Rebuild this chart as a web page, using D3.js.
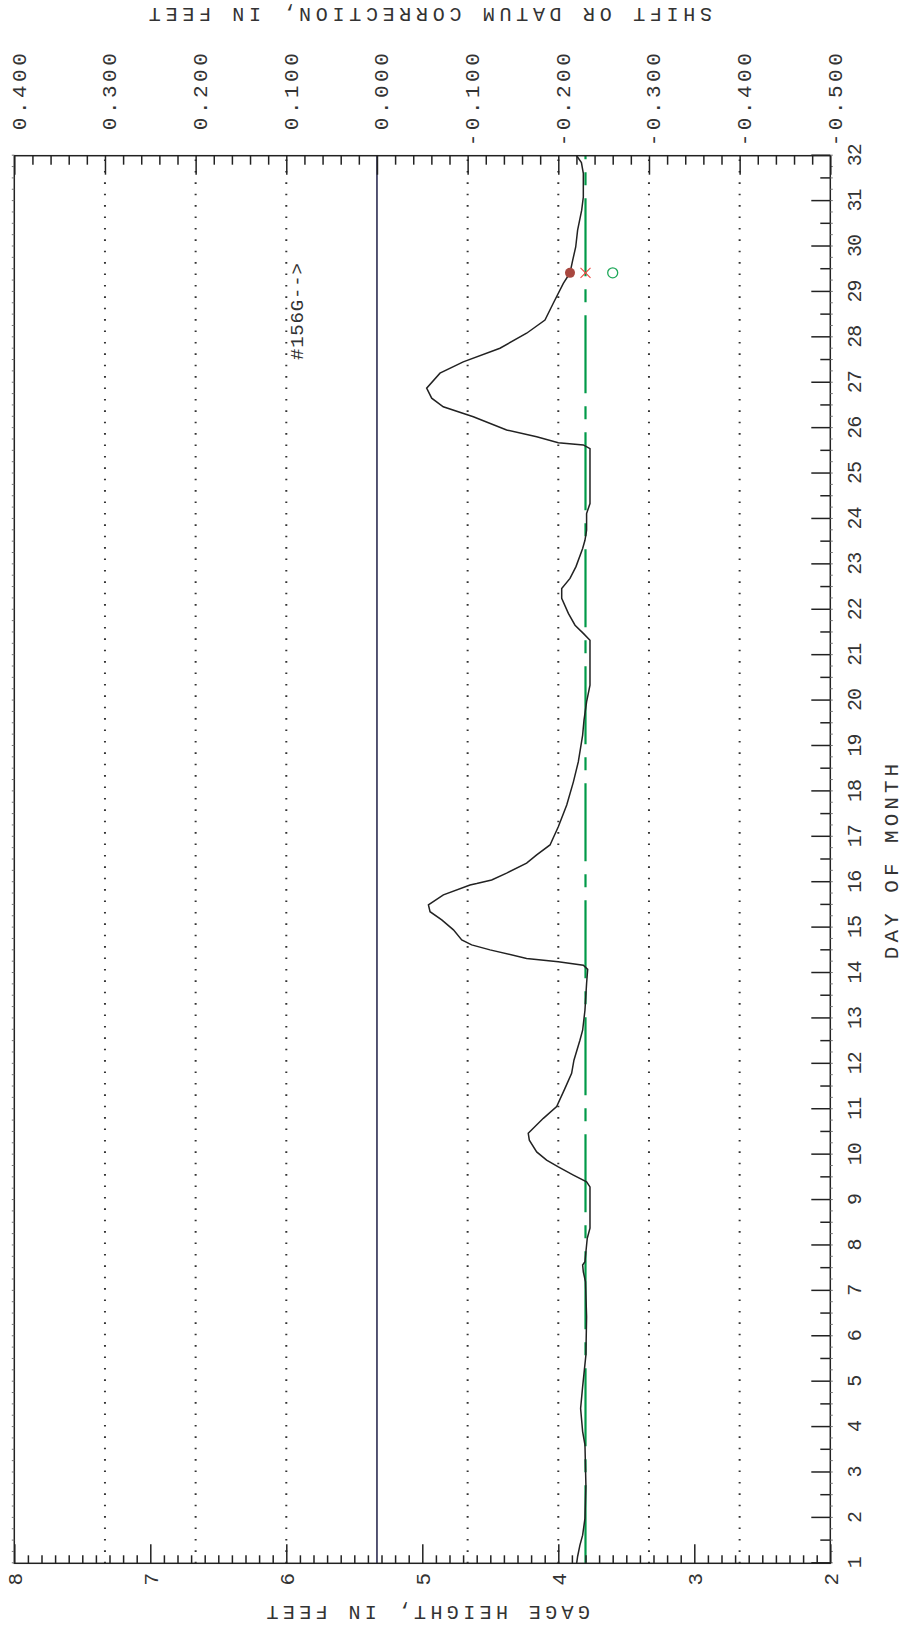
<!DOCTYPE html>
<html>
<head>
<meta charset="utf-8">
<title>Gage height hydrograph</title>
<script src="https://cdn.jsdelivr.net/npm/d3@7"></script>
<style>
  body { margin: 0; background: #fff; }
  svg text { font-family: "Liberation Mono", "DejaVu Sans Mono", monospace; fill: #333; }
</style>
</head>
<body>
<div id="chart"></div>
<script>
// unit-value record (day of month, gage height in feet)
var days = [1.00, 1.15, 1.40, 1.62, 1.99, 2.72, 3.61, 3.90, 4.41, 4.89, 5.59, 6.43, 7.20, 7.42, 7.57, 7.64,
            8.01, 8.16, 8.38, 9.29, 9.40, 9.55, 9.73, 9.88, 10.06, 10.32, 10.47, 10.58, 10.80, 11.06, 11.46,
            11.79, 12.08, 12.52, 12.74, 13.18, 13.77, 14.08, 14.17, 14.25, 14.32, 14.51, 14.62, 14.73, 14.95,
            15.17, 15.35, 15.50, 15.72, 15.94, 15.97, 16.05, 16.20, 16.42, 16.60, 16.82, 17.22, 17.70, 18.21,
            18.65, 19.24, 19.57, 19.97, 20.34, 21.33, 21.48, 21.66, 21.92, 22.25, 22.47, 22.69, 22.95, 23.35,
            23.53, 23.75, 24.12, 24.34, 25.55, 25.63, 25.68, 25.81, 25.96, 26.25, 26.47, 26.66, 26.88, 27.21,
            27.46, 27.76, 28.09, 28.38, 28.75, 29.19, 29.42, 29.70, 29.99, 30.36, 30.80, 31.09, 31.61, 31.85, 32.00];
var gage = [3.865, 3.858, 3.841, 3.821, 3.804, 3.797, 3.804, 3.821, 3.836, 3.821, 3.797, 3.792, 3.800, 3.816, 3.821, 3.804,
            3.792, 3.787, 3.767, 3.767, 3.792, 3.889, 4.000, 4.086, 4.159, 4.213, 4.221, 4.184, 4.110, 4.012, 3.951,
            3.902, 3.885, 3.841, 3.821, 3.804, 3.792, 3.784, 3.816, 4.000, 4.233, 4.502, 4.637, 4.710, 4.771,
            4.857, 4.943, 4.955, 4.845, 4.649, 4.600, 4.490, 4.380, 4.233, 4.159, 4.061, 4.000, 3.938, 3.889,
            3.853, 3.821, 3.811, 3.792, 3.767, 3.767, 3.816, 3.877, 3.926, 3.975, 3.975, 3.914, 3.870, 3.821,
            3.804, 3.792, 3.792, 3.767, 3.767, 3.816, 4.000, 4.159, 4.380, 4.625, 4.846, 4.931, 4.968, 4.870,
            4.699, 4.429, 4.233, 4.098, 4.037, 3.963, 3.914, 3.894, 3.872, 3.858, 3.828, 3.816, 3.816, 3.830, 3.865];

var dayTicks = d3.range(1, 33);
var gageTicks = [8, 7, 6, 5, 4, 3, 2];
var shiftTicks = [0.4, 0.3, 0.2, 0.1, 0.0, -0.1, -0.2, -0.3, -0.4, -0.5];
var shiftLabels = ["0.400", "0.300", "0.200", "0.100", "0.000", "-0.100", "-0.200", "-0.300", "-0.400", "-0.500"];
var shiftGrid = [0.3, 0.2, 0.1, -0.1, -0.2, -0.3, -0.4];

var appliedShift = [-0.23];        // green dashed line
var measDay = [29.42];             // measurement #156G
var measGage = [3.914];
var measShiftUsed = [-0.23];       // red x
var measShiftObs = [-0.26];        // green circle

var W = 905, H = 1625;

var svg = d3.select("#chart").append("svg")
    .attr("width", W)
    .attr("height", H);

// the plot is drawn landscape and turned a quarter turn
var g = svg.append("g")
    .attr("transform", "translate(0," + H + ") rotate(-90)");

var xDay = d3.scaleLinear().domain([1, 32]).range([61.7, 1469.3]);
var yGage = d3.scaleLinear().domain([8, 2]).range([14.3, 830.3]);
var yShift = d3.scaleLinear().domain([0.4, -0.5]).range([14.3, 830.3]);

// dotted grid on shift values
g.selectAll(".grid")
    .data(shiftGrid)
  .enter().append("line")
    .attr("class", "grid")
    .attr("x1", xDay(1)).attr("x2", xDay(32))
    .attr("y1", function(d) { return yShift(d); })
    .attr("y2", function(d) { return yShift(d); })
    .attr("stroke", "#333")
    .attr("stroke-width", 2)
    .attr("stroke-dasharray", "1.6,9.8");

// zero shift line
g.append("line")
    .attr("x1", xDay(1)).attr("x2", xDay(32))
    .attr("y1", yShift(0)).attr("y2", yShift(0))
    .attr("stroke", "#1e1e46")
    .attr("stroke-width", 1.5);

// applied shift
g.selectAll(".shiftline")
    .data(appliedShift)
  .enter().append("line")
    .attr("class", "shiftline")
    .attr("x1", xDay(1)).attr("x2", xDay(32))
    .attr("y1", function(d) { return yShift(d); })
    .attr("y2", function(d) { return yShift(d); })
    .attr("stroke", "#009a48")
    .attr("stroke-width", 2.2)
    .attr("stroke-dasharray", "78,13,13,13");

// hydrograph
var pts = days.map(function(d, i) { return [d, gage[i]]; });
var line = d3.line()
    .x(function(d) { return xDay(d[0]); })
    .y(function(d) { return yGage(d[1]); });

g.append("path")
    .datum(pts)
    .attr("d", line)
    .attr("fill", "none")
    .attr("stroke", "#222")
    .attr("stroke-width", 1.5);

// frame
g.append("rect")
    .attr("x", xDay(1)).attr("y", yGage(8))
    .attr("width", xDay(32) - xDay(1))
    .attr("height", yGage(2) - yGage(8))
    .attr("fill", "none")
    .attr("stroke", "#222")
    .attr("stroke-width", 1.5);

function styleAxis(sel, size) {
    sel.attr("font-size", size).attr("color", "#222");
    sel.select(".domain").remove();
    sel.selectAll(".tick line").attr("stroke-width", 1.5);
}

// day of month axis
var dayAxis = g.append("g")
    .attr("transform", "translate(0," + yGage(2) + ")")
    .call(d3.axisBottom(xDay).tickValues(dayTicks).tickSize(-19).tickPadding(16.4)
        .tickFormat(d3.format("d")));
styleAxis(dayAxis, 20);
dayAxis.selectAll("text").attr("letter-spacing", -1);

g.append("g")
    .attr("transform", "translate(0," + yGage(2) + ")")
    .call(d3.axisBottom(xDay).tickValues(d3.range(1.5, 32, 1)).tickSize(-10).tickFormat(""))
    .call(function(s) { styleAxis(s, 10); });

// small hour marks on both day edges
g.append("g")
    .attr("transform", "translate(0," + yGage(2) + ")")
    .call(d3.axisBottom(xDay).tickValues(d3.range(1, 32.01, 0.25)).tickSize(2.5).tickFormat(""))
    .call(function(s) { styleAxis(s, 10); s.selectAll(".tick line").attr("stroke-width", 1).attr("stroke", "#777"); });
g.append("g")
    .attr("transform", "translate(0," + yGage(8) + ")")
    .call(d3.axisTop(xDay).tickValues(d3.range(1, 32.01, 0.25)).tickSize(2.5).tickFormat(""))
    .call(function(s) { styleAxis(s, 10); s.selectAll(".tick line").attr("stroke-width", 1).attr("stroke", "#777"); });

// gage height axis
var gageAxis = g.append("g")
    .attr("transform", "translate(" + xDay(1) + ",0)")
    .call(d3.axisLeft(yGage).tickValues(gageTicks).tickSize(-19).tickPadding(9.7)
        .tickFormat(d3.format("d")));
styleAxis(gageAxis, 21);

g.append("g")
    .attr("transform", "translate(" + xDay(1) + ",0)")
    .call(d3.axisLeft(yGage).tickValues(d3.range(20, 81).map(function(v) { return v / 10; })
        .filter(function(v) { return v % 1 !== 0; })).tickSize(-8).tickFormat(""))
    .call(function(s) { styleAxis(s, 10); });

// shift axis
var shiftAxis = g.append("g")
    .attr("transform", "translate(" + xDay(32) + ",0)")
    .call(d3.axisRight(yShift).tickValues(shiftTicks).tickSize(-19)
        .tickFormat(function(d, i) { return shiftLabels[i]; }));
styleAxis(shiftAxis, 21);
shiftAxis.selectAll("text")
    .attr("text-anchor", "end")
    .attr("x", 106)
    .attr("y", 4)
    .attr("letter-spacing", 3.5);

g.append("g")
    .attr("transform", "translate(" + xDay(32) + ",0)")
    .call(d3.axisRight(yShift).tickValues(d3.range(-25, 21).map(function(v) { return v / 50; })
        .filter(function(v) { return Math.abs(v * 10 - Math.round(v * 10)) > 1e-6; })).tickSize(-9).tickFormat(""))
    .call(function(s) { styleAxis(s, 10); });

// measurement marks
g.selectAll(".meas")
    .data(measDay)
  .enter().append("circle")
    .attr("class", "meas")
    .attr("cx", function(d) { return xDay(d); })
    .attr("cy", function(d, i) { return yGage(measGage[i]); })
    .attr("r", 5)
    .attr("fill", "#a8473f");

g.selectAll(".measx")
    .data(measDay)
  .enter().append("path")
    .attr("class", "measx")
    .attr("transform", function(d, i) { return "translate(" + xDay(d) + "," + yShift(measShiftUsed[i]) + ")"; })
    .attr("d", "M-5,-5L5,5M-5,5L5,-5")
    .attr("stroke", "#ee4a44")
    .attr("stroke-width", 1.1)
    .attr("fill", "none");

g.selectAll(".measo")
    .data(measDay)
  .enter().append("circle")
    .attr("class", "measo")
    .attr("cx", function(d) { return xDay(d); })
    .attr("cy", function(d, i) { return yShift(measShiftObs[i]); })
    .attr("r", 5)
    .attr("fill", "none")
    .attr("stroke", "#1fa85a")
    .attr("stroke-width", 1.3);

g.append("text")
    .attr("x", xDay(27.5))
    .attr("y", yShift(0.1) + 16.3)
    .attr("font-size", 19)
    .attr("letter-spacing", 0.8)
    .text("#156G-->");

// titles
g.append("text")
    .attr("x", xDay(16.5))
    .attr("y", 898)
    .attr("text-anchor", "middle")
    .attr("font-size", 21)
    .attr("letter-spacing", 4)
    .text("DAY OF MONTH");

g.append("text")
    .attr("transform", "translate(11.7,426) rotate(-90)")
    .attr("text-anchor", "middle")
    .attr("dy", "0.35em")
    .attr("font-size", 20)
    .attr("letter-spacing", 4.4)
    .text("GAGE HEIGHT, IN FEET");

g.append("text")
    .attr("transform", "translate(1610,428) rotate(-90)")
    .attr("text-anchor", "middle")
    .attr("dy", "0.35em")
    .attr("font-size", 20)
    .attr("letter-spacing", 4.7)
    .text("SHIFT OR DATUM CORRECTION, IN FEET");
</script>
</body>
</html>
